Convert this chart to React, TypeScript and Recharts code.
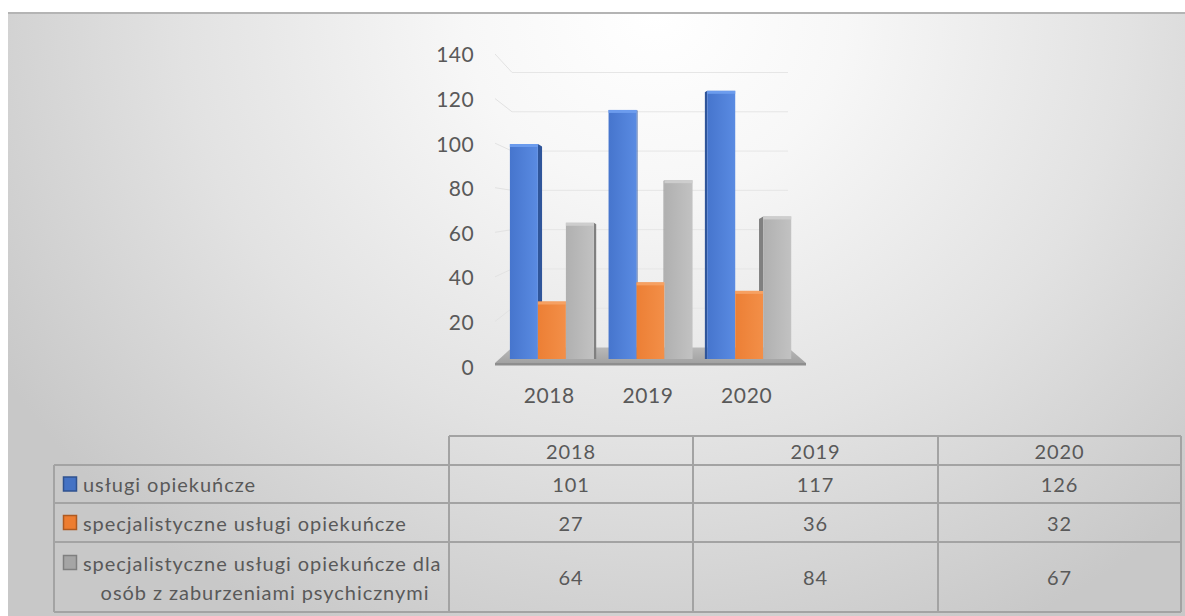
import React from 'react';
import { BarChart, Bar, XAxis, YAxis, CartesianGrid } from 'recharts';

// ---- data ----
const years = ['2018', '2019', '2020'];
const uslugiOpiekuncze = [101, 117, 126];
const specjalistyczneUslugi = [27, 36, 32];
const specjalistyczneDlaZaburzen = [64, 84, 67];
const seriesKeys = ['a', 'b', 'c'];
const seriesNames = [
  ['usługi opiekuńcze'],
  ['specjalistyczne usługi opiekuńcze'],
  ['specjalistyczne usługi opiekuńcze dla', 'osób z zaburzeniami psychicznymi'],
];
const yTicks = [0, 20, 40, 60, 80, 100, 120, 140];

const seriesValues = [uslugiOpiekuncze, specjalistyczneUslugi, specjalistyczneDlaZaburzen];
const data = years.map((year, i) => ({
  year,
  a: uslugiOpiekuncze[i],
  b: specjalistyczneUslugi[i],
  c: specjalistyczneDlaZaburzen[i],
}));

// ---- style ----
const FONT = 'Lato, "Open Sans", sans-serif';
const TEXT = '#595959';
const COLORS = [
  { l: '#4675cd', r: '#5a8be2', side: '#2f559a', top: '#6f9ff0', key: '#4472c4', keyStroke: '#2f528f' },
  { l: '#ec7f35', r: '#f38f48', side: '#c0580f', top: '#f6a366', key: '#ed7d31', keyStroke: '#ae5a21' },
  { l: '#b0b0b0', r: '#c2c2c2', side: '#808080', top: '#cfcfcf', key: '#a5a5a5', keyStroke: '#7f7f7f' },
];
const W = 1177;
const H = 604;
const VPX = 642;
const VPY = 198;
const PLOT_BOTTOM = 347;

function make3DShape(si: number) {
  return (props: any) => {
    const { x, y, width: w, height: h, payload } = props;
    if (!h || h <= 0) return <g />;
    const c = COLORS[si];
    const bottom = y + h;
    const dx = x + w / 2 - VPX;
    const s = Math.min(6, Math.abs(dx) * 0.033);
    const ppu = h / payload[seriesKeys[si]];
    let side: any = null;
    if (s > 0.8) {
      if (dx < 0) {
        side = (
          <polygon
            points={`${x + w},${y} ${x + w + s},${y + s * 0.6} ${x + w + s},${bottom} ${x + w},${bottom}`}
            fill={c.side}
          />
        );
      } else {
        let limit = bottom;
        if (si > 0) {
          const nTop = bottom - payload[seriesKeys[si - 1]] * ppu;
          limit = Math.min(bottom, nTop);
        }
        if (limit > y) {
          side = (
            <polygon
              points={`${x},${y} ${x - s},${y + s * 0.6} ${x - s},${limit} ${x},${limit}`}
              fill={c.side}
            />
          );
        }
      }
    }
    return (
      <g>
        {side}
        <rect x={x} y={y} width={w} height={h} fill={`url(#grad${si})`} />
        <rect x={x} y={y} width={w} height={3} fill={c.top} opacity={0.9} />
      </g>
    );
  };
}

const gridLine = (props: any) => {
  const y = props.y1;
  const key = props.key ?? `g-${y}`;
  const backY = VPY + (y - VPY) * 0.923;
  const wallY = VPY + (y - VPY) * 1.047;
  if (Math.abs(y - PLOT_BOTTOM) < 1.5) {
    return (
      <g key={key}>
        <polygon points={`504,${backY} 780,${backY} 798,${y + 4} 487,${y + 4}`} fill="url(#floorGrad)" />
        <polygon points={`487,${y + 4} 798,${y + 4} 798,${y + 6.5} 487,${y + 6.5}`} fill="#8e8e8e" />
      </g>
    );
  }
  return (
    <g key={key}>
      <line x1={487} y1={wallY} x2={504} y2={backY} stroke="#e2e2e2" strokeWidth={1} />
      <line x1={504} y1={backY} x2={780} y2={backY} stroke="#e6e6e6" strokeWidth={1} />
    </g>
  );
};

const YTick = (props: any) => {
  const { x, y, payload } = props;
  const ty = VPY + (y - VPY) * 1.047;
  return (
    <text x={x} y={ty} textAnchor="end" dominantBaseline="central" fontFamily={FONT} fontSize={21} letterSpacing={0.4} fill={TEXT}>
      {payload.value}
    </text>
  );
};

const XTick = (props: any) => {
  const { x, y, payload } = props;
  return (
    <text x={x - 2} y={y + 35} textAnchor="middle" dominantBaseline="central" fontFamily={FONT} fontSize={21} letterSpacing={0.6} fill={TEXT}>
      {payload.value}
    </text>
  );
};

// ---- data table layout ----
const colX = [46, 441, 685, 930, 1173];
const rowY = [422, 451, 489, 528, 598];
const TABLE_LINE = '#a3a3a3';

function DataTable() {
  const lines: any[] = [];
  lines.push(<line key="ht" x1={colX[1]} y1={rowY[0]} x2={colX[4]} y2={rowY[0]} />);
  for (let r = 1; r < rowY.length; r++) {
    lines.push(<line key={`h${r}`} x1={colX[0]} y1={rowY[r]} x2={colX[4]} y2={rowY[r]} />);
  }
  lines.push(<line key="v0" x1={colX[0]} y1={rowY[1]} x2={colX[0]} y2={rowY[4]} />);
  for (let c = 1; c < colX.length; c++) {
    lines.push(<line key={`v${c}`} x1={colX[c]} y1={rowY[0]} x2={colX[c]} y2={rowY[4]} />);
  }
  const texts: any[] = [];
  years.forEach((yr, ci) => {
    const cx = (colX[ci + 1] + colX[ci + 2]) / 2;
    texts.push(
      <text key={`yr${ci}`} x={cx} y={(rowY[0] + rowY[1]) / 2} textAnchor="middle" dominantBaseline="central">
        {yr}
      </text>
    );
    seriesValues.forEach((vals, si) => {
      texts.push(
        <text key={`v${si}-${ci}`} x={cx} y={(rowY[si + 1] + rowY[si + 2]) / 2} textAnchor="middle" dominantBaseline="central">
          {vals[ci]}
        </text>
      );
    });
  });
  const legend: any[] = [];
  seriesNames.forEach((name, si) => {
    const mid = (rowY[si + 1] + rowY[si + 2]) / 2;
    const firstY = name.length > 1 ? mid - 14.5 : mid;
    legend.push(
      <rect key={`k${si}`} x={55.5} y={firstY - 7} width={13} height={14} fill={COLORS[si].key} stroke={COLORS[si].keyStroke} strokeWidth={1.5} />
    );
    legend.push(
      <text key={`n${si}-0`} x={75} y={firstY} textAnchor="start" dominantBaseline="central">
        {name[0]}
      </text>
    );
    if (name.length > 1) {
      legend.push(
        <text key={`n${si}-1`} x={257} y={firstY + 29} textAnchor="middle" dominantBaseline="central">
          {name[1]}
        </text>
      );
    }
  });
  return (
    <svg width={W} height={H} style={{ position: 'absolute', left: 0, top: 0, pointerEvents: 'none' }}>
      <g stroke={TABLE_LINE} strokeWidth={2}>{lines}</g>
      <g fontFamily={FONT} fontSize={20} letterSpacing={0.95} fill={TEXT}>
        {texts}
        {legend}
      </g>
    </svg>
  );
}

export default function App() {
  return (
    <>
      <style>{'html,body{margin:0;padding:0;overflow:hidden;background:#fff;}'}</style>
      <div
        style={{
          position: 'absolute',
          left: 8,
          top: 12,
          width: W,
          height: H,
          overflow: 'hidden',
          borderTop: '2px solid #b4b4b4',
          boxSizing: 'border-box',
          background:
            'radial-gradient(ellipse 65% 115% at 55% 0%, #ffffff 0%, #f7f7f7 25%, #e2e2e2 62%, #c8c8c8 100%)',
        }}
      >
        <div style={{ position: 'absolute', left: 0, top: -2 }}>
          <BarChart
            width={W}
            height={H}
            data={data}
            margin={{ top: 49, right: 387, bottom: 197, left: 434 }}
            barCategoryGap="8%"
            barGap={0}
          >
            <defs>
              {COLORS.map((c, i) => (
                <linearGradient key={i} id={`grad${i}`} x1="0" y1="0" x2="1" y2="0">
                  <stop offset="0%" stopColor={c.l} />
                  <stop offset="100%" stopColor={c.r} />
                </linearGradient>
              ))}
              <linearGradient id="floorGrad" x1="0" y1="0" x2="0" y2="1">
                <stop offset="0%" stopColor="#b9b9b9" />
                <stop offset="100%" stopColor="#a2a2a2" />
              </linearGradient>
            </defs>
            <CartesianGrid vertical={false} horizontal={gridLine} />
            <YAxis
              domain={[0, 140]}
              ticks={yTicks}
              width={60}
              axisLine={false}
              tickLine={false}
              tickSize={0}
              tickMargin={28}
              tick={YTick}
              interval={0}
            />
            <XAxis dataKey="year" height={60} axisLine={false} tickLine={false} tickSize={0} tickMargin={0} tick={XTick} />
            {seriesKeys.map((k, si) => (
              <Bar key={k} dataKey={k} name={seriesNames[si].join(' ')} fill={COLORS[si].key} shape={make3DShape(si)} isAnimationActive={false} />
            ))}
          </BarChart>
        </div>
        <DataTable />
      </div>
    </>
  );
}
